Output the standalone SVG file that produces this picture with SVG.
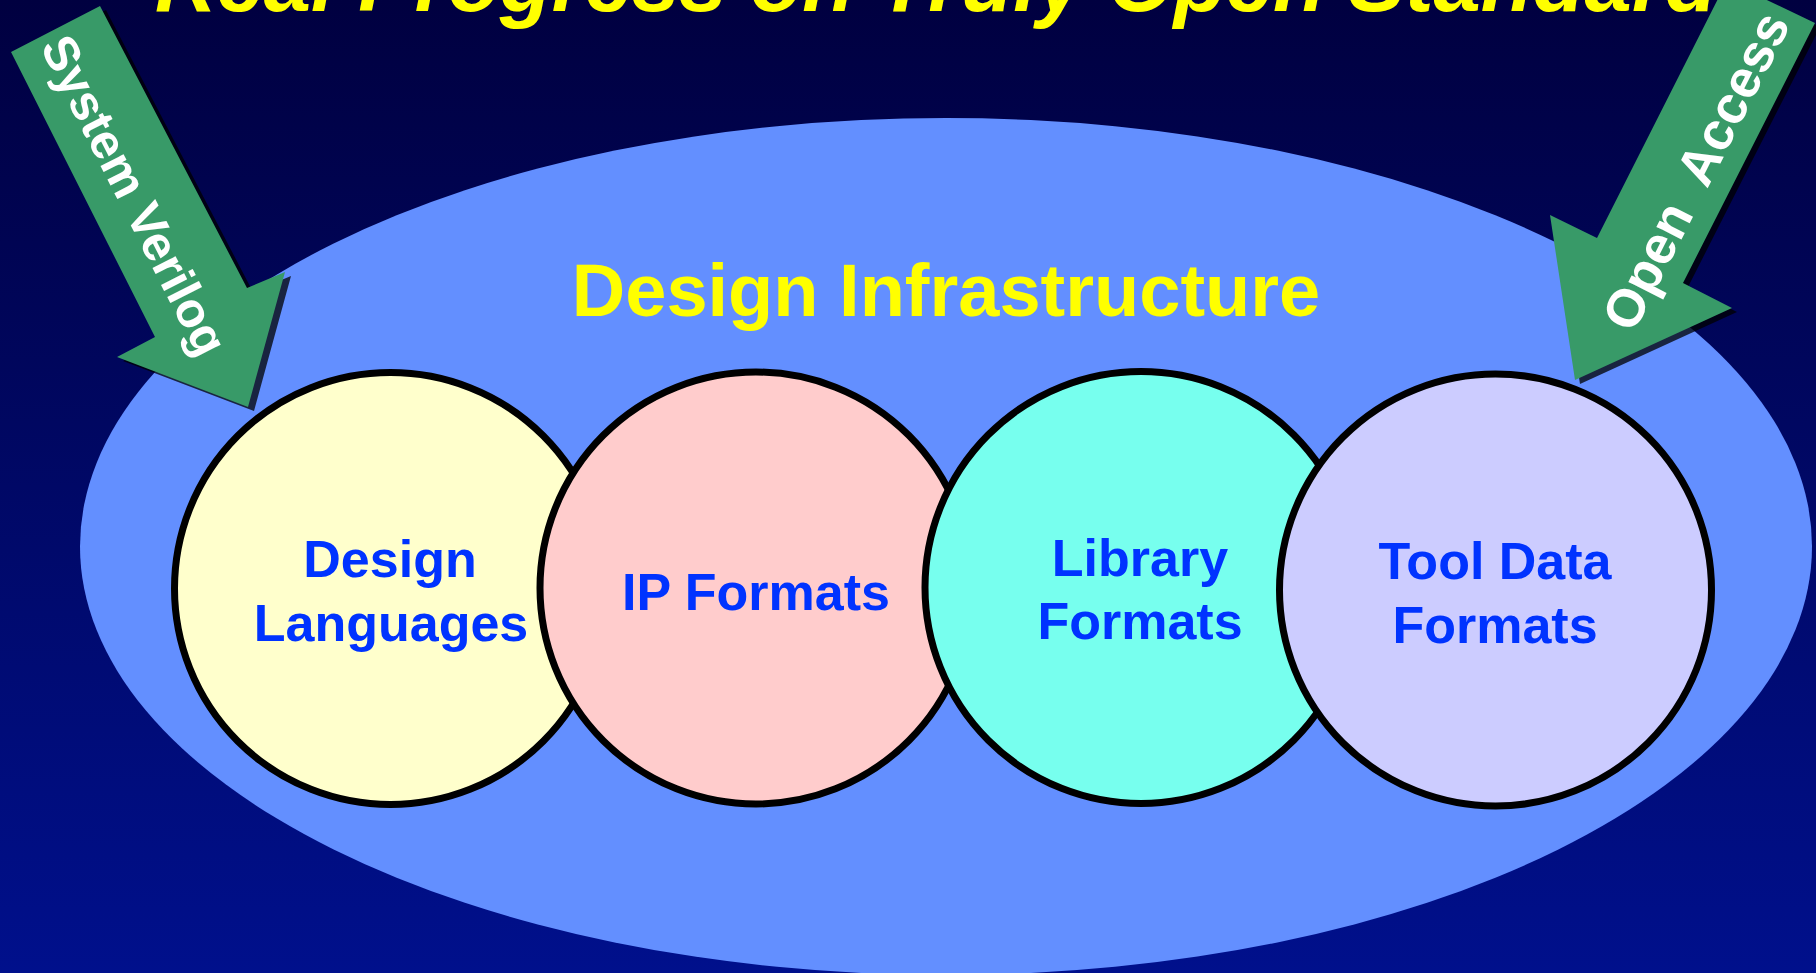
<svg xmlns="http://www.w3.org/2000/svg" width="1816" height="973" viewBox="0 0 1816 973">
<defs>
<linearGradient id="bg" x1="0" y1="0" x2="0" y2="1">
<stop offset="0" stop-color="#000040"/>
<stop offset="1" stop-color="#00108C"/>
</linearGradient>
<style>
.circ{stroke:#000;stroke-width:7}
.lbl{font-family:"Liberation Sans",Arial,sans-serif;font-weight:bold;font-size:52px;fill:#0033FF;text-anchor:middle}
.arrow{fill:#389A68}
.shadow{fill:#000;opacity:0.75}
.atext{font-family:"Liberation Sans",Arial,sans-serif;font-weight:bold;fill:#FFFFFF;text-anchor:middle}
</style>
</defs>
<rect x="0" y="0" width="1816" height="973" fill="url(#bg)"/>
<text x="155" y="11" font-family="Liberation Sans, Arial, sans-serif" font-weight="bold" font-style="italic" font-size="85" fill="#FFFF00">Real Progress on Truly Open Standard</text>
<g id="infrastructure">
<ellipse cx="946" cy="546.5" rx="866" ry="428.5" fill="#638FFF"/>
<text x="946" y="316" font-family="Liberation Sans, Arial, sans-serif" font-weight="bold" font-size="74" fill="#FFFF00" text-anchor="middle">Design Infrastructure</text>
</g>
<g id="design-languages">
<circle class="circ" cx="390.5" cy="588.5" r="216" fill="#FFFFCC"/>
<text class="lbl" x="390" y="577">Design</text>
<text class="lbl" x="391" y="641">Languages</text>
</g>
<g id="ip-formats">
<circle class="circ" cx="756" cy="588" r="216" fill="#FFCCCC"/>
<text class="lbl" x="756" y="610">IP Formats</text>
</g>
<g id="library-formats">
<circle class="circ" cx="1141" cy="587.5" r="216" fill="#77FFEE"/>
<text class="lbl" x="1140" y="576">Library</text>
<text class="lbl" x="1140" y="639">Formats</text>
</g>
<g id="tool-data-formats">
<circle class="circ" cx="1495.5" cy="590" r="216" fill="#CCCCFF"/>
<text class="lbl" x="1495" y="579">Tool Data</text>
<text class="lbl" x="1495" y="643">Formats</text>
</g>
<g id="connectors">
<g id="system-verilog">
<polygon class="shadow" transform="translate(6,4)" points="100,6 247,288 285,272 248,407 117,357 155,337 11,52"/>
<polygon class="arrow" points="100,6 247,288 285,272 248,407 117,357 155,337 11,52"/>
<text class="atext" font-size="49" transform="translate(139,193) rotate(63)" x="0" y="22">System Verilog</text>
</g>
<g id="open-access">
<polygon class="shadow" transform="translate(5,4)" points="1727,-19 1815,23 1683,283 1732,308 1575,380 1550,215 1597,238"/>
<polygon class="arrow" points="1727,-19 1815,23 1683,283 1732,308 1575,380 1550,215 1597,238"/>
<text class="atext" font-size="53" transform="translate(1688,167) rotate(-63)" x="0" y="27" xml:space="preserve">Open  Access</text>
</g>
</g>
</svg>
